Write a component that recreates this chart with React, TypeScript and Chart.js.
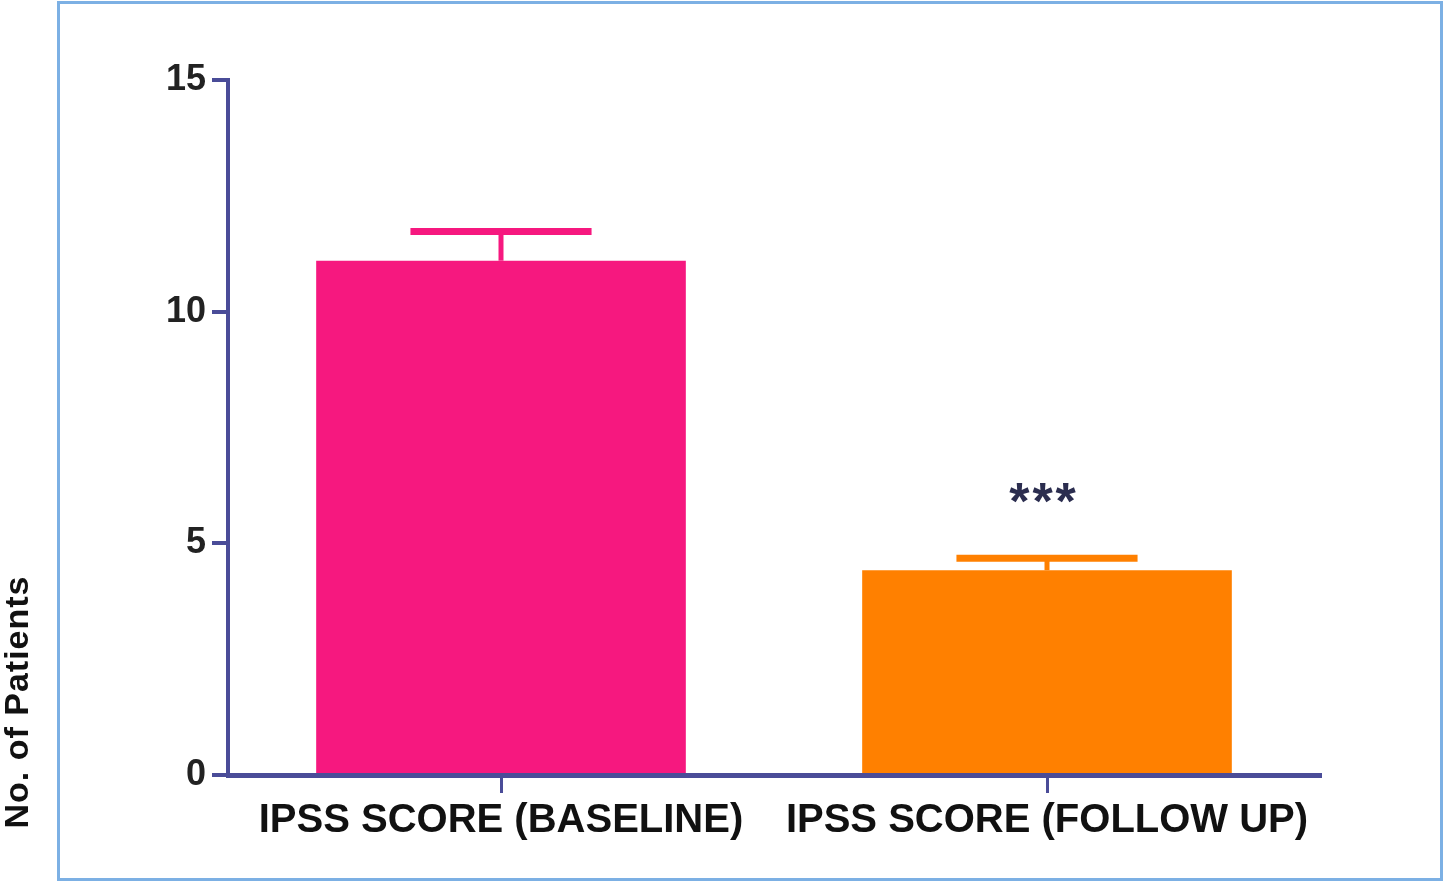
import { useEffect, useRef } from 'react'
import { Chart, ChartConfiguration, Plugin, registerables } from 'chart.js'

Chart.register(...registerables)

// values
const categories = ['IPSS SCORE (BASELINE)', 'IPSS SCORE (FOLLOW UP)']
const meanScores = [11.1, 4.42]
const errorUp = [0.63, 0.26]
const barColors = ['#f6187f', '#ff8000']
const significance = ['', '***']
const yTicks = [0, 5, 10, 15]
const yTitle = 'No. of Patients'

const AXIS = '#4a4c98'
const FONT = '"Liberation Sans", Arial, sans-serif'

const errorBars: Plugin<'bar'> = {
    id: 'errorBars',
    afterDatasetsDraw(chart) {
        const { ctx } = chart
        const y = chart.scales.y
        const meta = chart.getDatasetMeta(0)
        meta.data.forEach((bar: any, i: number) => {
            const top = y.getPixelForValue(meanScores[i])
            const tip = y.getPixelForValue(meanScores[i] + errorUp[i])
            const half = bar.width * 0.245
            ctx.save()
            ctx.strokeStyle = barColors[i]
            ctx.lineWidth = 5
            ctx.beginPath()
            ctx.moveTo(bar.x, top)
            ctx.lineTo(bar.x, tip)
            ctx.stroke()
            ctx.lineWidth = 7
            ctx.beginPath()
            ctx.moveTo(bar.x - half, tip)
            ctx.lineTo(bar.x + half, tip)
            ctx.stroke()
            if (significance[i]) {
                ctx.fillStyle = '#2b2d4f'
                ctx.font = `bold 52px ${FONT}`
                ctx.textAlign = 'center'
                ctx.textBaseline = 'middle'
                ;(ctx as any).letterSpacing = '3px'
                ctx.fillText(significance[i], bar.x - 3, tip - 54)
            }
            ctx.restore()
        })
    }
}

const sideTitle: Plugin<'bar'> = {
    id: 'sideTitle',
    afterDraw(chart) {
        const { ctx } = chart
        ctx.save()
        ctx.translate(19, 702)
        ctx.rotate(-Math.PI / 2)
        ctx.fillStyle = '#111'
        ctx.font = `bold 34px ${FONT}`
        ctx.textAlign = 'center'
        ctx.textBaseline = 'middle'
        ;(ctx as any).letterSpacing = '1px'
        ctx.fillText(yTitle, 0, 0)
        ctx.restore()
    }
}

export default function App() {
    const canvasRef = useRef<HTMLCanvasElement>(null)
    const chartRef = useRef<Chart | null>(null)

    useEffect(() => {
        if (!canvasRef.current) return
        const ctx = canvasRef.current.getContext('2d')
        if (!ctx) return

        const config: ChartConfiguration<'bar'> = {
            type: 'bar',
            data: {
                labels: categories,
                datasets: [{
                    data: meanScores,
                    backgroundColor: barColors,
                    borderWidth: 0,
                    barPercentage: 0.677,
                    categoryPercentage: 1
                }]
            },
            plugins: [errorBars, sideTitle],
            options: {
                responsive: false,
                animation: false,
                devicePixelRatio: 1,
                layout: { padding: { left: 0, top: 80, right: 125, bottom: 0 } },
                scales: {
                    x: {
                        offset: true,
                        afterFit: (s: any) => { s.height = 108 },
                        grid: {
                            offset: false,
                            drawOnChartArea: false,
                            tickLength: 18,
                            lineWidth: 3,
                            color: AXIS
                        },
                        border: { display: true, color: AXIS, width: 5 },
                        ticks: {
                            color: '#111',
                            padding: 4,
                            maxRotation: 0,
                            font: { family: FONT, size: 40, weight: 'bold' }
                        }
                    },
                    y: {
                        min: 0,
                        max: 15,
                        afterFit: (s: any) => { s.width = 228 },
                        afterBuildTicks: (s: any) => { s.ticks = yTicks.map(v => ({ value: v })) },
                        grid: {
                            drawOnChartArea: false,
                            tickLength: 16,
                            lineWidth: 4,
                            color: AXIS
                        },
                        border: { display: true, color: AXIS, width: 4 },
                        ticks: {
                            color: '#222',
                            padding: 6,
                            font: { family: FONT, size: 36, weight: 'bold' }
                        }
                    }
                },
                plugins: {
                    legend: { display: false },
                    tooltip: { enabled: false }
                }
            }
        }

        chartRef.current = new Chart(ctx, config)

        return () => {
            if (chartRef.current) {
                chartRef.current.destroy()
            }
        }
    }, [])

    return (
        <div style={{ position: 'fixed', left: 0, top: 0, width: 1445, height: 883, background: '#fff' }}>
            <div style={{
                position: 'absolute', left: 57, top: 1, width: 1380, height: 874,
                border: '3px solid #7cb0e4'
            }} />
            <canvas ref={canvasRef} width={1445} height={883}
                style={{ position: 'absolute', left: 0, top: 0 }}
                aria-label="IPSS score bar chart" role="img"></canvas>
        </div>
    )
}
